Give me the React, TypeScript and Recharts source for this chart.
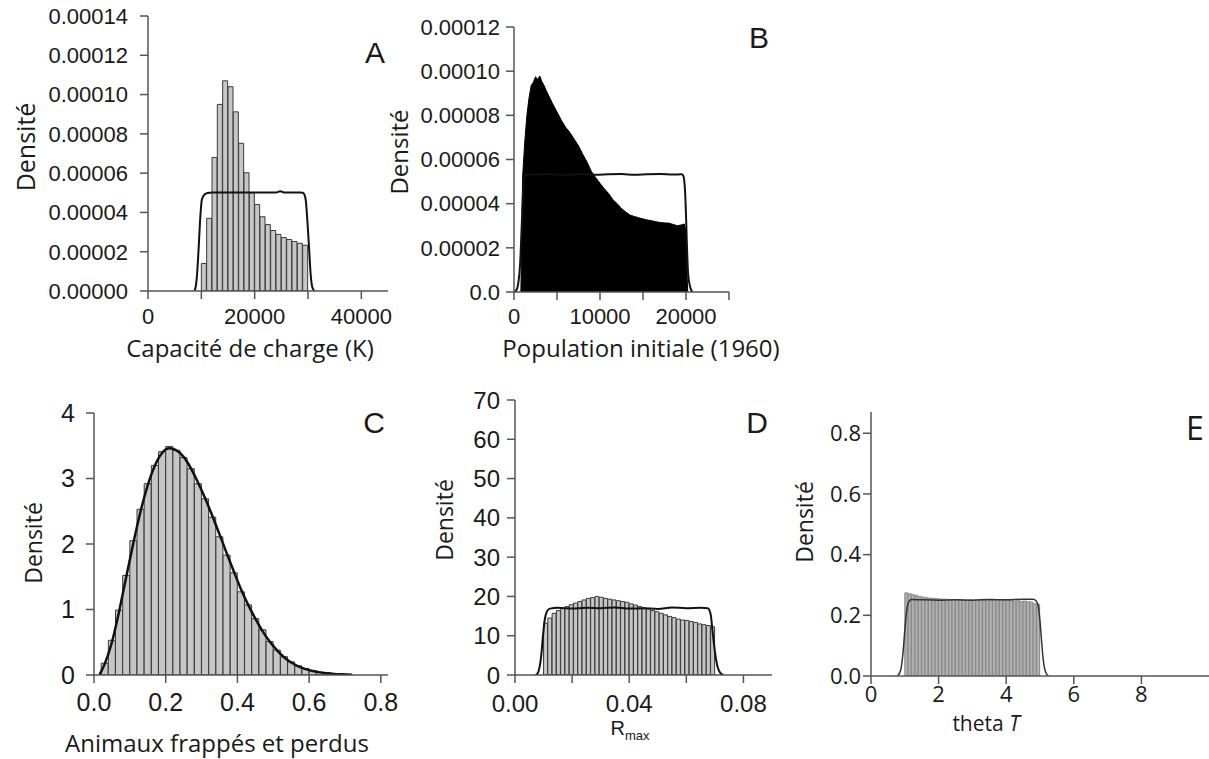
import React from 'react';
import { Area, Bar, ComposedChart, Line, XAxis, YAxis } from 'recharts';

// A: capacité de charge (K), bins of 1000
const aBinMids = [10500, 11500, 12500, 13500, 14500, 15500, 16500, 17500, 18500, 19500, 20500, 21500, 22500, 23500, 24500, 25500, 26500, 27500, 28500, 29500];
const aDensity = [0.000014, 0.000037, 0.000068, 0.000095, 0.000107, 0.000104, 0.0000912, 0.0000752, 0.0000602, 0.00005, 0.000044, 0.0000378, 0.0000338, 0.0000308, 0.0000288, 0.0000272, 0.0000262, 0.0000252, 0.0000243, 0.0000233];
const aPriorX = [8700, 9000, 9200, 9500, 9800, 10100, 10600, 11200, 12000, 14000, 16000, 18000, 20000, 22000, 24000, 24800, 25500, 27000, 28500, 29000, 29300, 29600, 29900, 30200, 30500, 30800, 31200];
const aPriorY = [0, 0.000003, 0.0000085, 0.000022, 0.0000373, 0.0000466, 0.0000491, 0.0000499, 0.0000502, 0.0000501, 0.0000502, 0.0000501, 0.0000502, 0.0000501, 0.0000502, 0.0000508, 0.0000502, 0.0000501, 0.0000502, 0.00005, 0.0000493, 0.0000458, 0.000035, 0.000022, 0.0000085, 0.000002, 0];
const aXTicks = [0, 10000, 20000, 30000, 40000];
const aXLabels = ['0', '', '20000', '', '40000'];
const aYTicks = [0, 0.00002, 0.00004, 0.00006, 0.00008, 0.0001, 0.00012, 0.00014];
const aYLabels = ['0.00000', '0.00002', '0.00004', '0.00006', '0.00008', '0.00010', '0.00012', '0.00014'];

// B: population initiale (1960), fine histogram outline
const bX = [800, 900, 1000, 1250, 1500, 1750, 2000, 2250, 2500, 2750, 3000, 3250, 3500, 3750, 4000, 4500, 5000, 5500, 6000, 6500, 7000, 7500, 8000, 8500, 9000, 9500, 10000, 10500, 11000, 11500, 12000, 12500, 13000, 13500, 14000, 14500, 15000, 15500, 16000, 16500, 17000, 17500, 18000, 18500, 19000, 19500, 19800, 20000, 20100, 20200];
const bY = [0, 0.000025, 0.000052, 0.000068, 0.00008, 0.000088, 0.0000935, 0.000095, 0.0000975, 0.0000962, 0.0000978, 0.0000952, 0.0000935, 0.0000912, 0.0000892, 0.0000852, 0.0000815, 0.0000778, 0.0000746, 0.0000722, 0.0000692, 0.0000662, 0.0000623, 0.0000588, 0.0000546, 0.0000518, 0.0000492, 0.0000468, 0.0000446, 0.0000418, 0.00004, 0.0000378, 0.0000362, 0.0000348, 0.0000342, 0.0000336, 0.0000331, 0.0000326, 0.0000323, 0.0000318, 0.0000315, 0.0000313, 0.0000312, 0.0000306, 0.00003, 0.0000304, 0.0000308, 0.000028, 0.00001, 0];
const bPriorX = [0, 300, 500, 700, 900, 1100, 1300, 2000, 4000, 6000, 8000, 9500, 11000, 12500, 14000, 15500, 17000, 18500, 19500, 19700, 19900, 20000, 20100, 20250, 20500, 20750];
const bPriorY = [0, 0.000001, 0.000004, 0.000012, 0.00003, 0.000048, 0.000053, 0.0000532, 0.0000533, 0.0000531, 0.0000534, 0.0000531, 0.0000533, 0.0000534, 0.0000531, 0.0000533, 0.0000534, 0.0000532, 0.0000533, 0.0000525, 0.000045, 0.000035, 0.000022, 0.000008, 0.000002, 0];
const bXTicks = [0, 5000, 10000, 15000, 20000, 25000];
const bXLabels = ['0', '', '10000', '', '20000', ''];
const bYTicks = [0, 0.00002, 0.00004, 0.00006, 0.00008, 0.0001, 0.00012];
const bYLabels = ['0.0', '0.00002', '0.00004', '0.00006', '0.00008', '0.00010', '0.00012'];

// C: animaux frappés et perdus, bins of 0.02
const cBinMids = [0.03, 0.05, 0.07, 0.09, 0.11, 0.13, 0.15, 0.17, 0.19, 0.21, 0.23, 0.25, 0.27, 0.29, 0.31, 0.33, 0.35, 0.37, 0.39, 0.41, 0.43, 0.45, 0.47, 0.49, 0.51, 0.53, 0.55, 0.57, 0.59, 0.61, 0.63, 0.65, 0.67, 0.69, 0.71];
const cDensity = [0.18, 0.53, 0.99, 1.52, 2.05, 2.53, 2.92, 3.2, 3.41, 3.49, 3.43, 3.32, 3.15, 2.92, 2.69, 2.41, 2.11, 1.83, 1.56, 1.27, 1.07, 0.86, 0.69, 0.51, 0.38, 0.28, 0.2, 0.14, 0.1, 0.065, 0.045, 0.03, 0.02, 0.012, 0.008];
const cPriorX = [0.015, 0.03, 0.05, 0.07, 0.09, 0.11, 0.13, 0.15, 0.17, 0.19, 0.21, 0.23, 0.25, 0.27, 0.29, 0.31, 0.33, 0.35, 0.37, 0.39, 0.41, 0.43, 0.45, 0.47, 0.49, 0.51, 0.53, 0.55, 0.57, 0.59, 0.61, 0.63, 0.65, 0.67, 0.69, 0.72];
const cPriorY = [0, 0.17, 0.5, 0.97, 1.5, 2.02, 2.5, 2.9, 3.2, 3.39, 3.46, 3.43, 3.33, 3.16, 2.94, 2.7, 2.43, 2.15, 1.86, 1.58, 1.31, 1.07, 0.86, 0.67, 0.51, 0.38, 0.27, 0.19, 0.13, 0.09, 0.06, 0.04, 0.025, 0.015, 0.01, 0.005];
const cXTicks = [0, 0.2, 0.4, 0.6, 0.8];
const cXLabels = ['0.0', '0.2', '0.4', '0.6', '0.8'];
const cYTicks = [0, 1, 2, 3, 4];
const cYLabels = ['0', '1', '2', '3', '4'];

// D: Rmax, bins of 0.0015
const dBinMids = [0.01075, 0.01225, 0.01375, 0.01525, 0.01675, 0.01825, 0.01975, 0.02125, 0.02275, 0.02425, 0.02575, 0.02725, 0.02875, 0.03025, 0.03175, 0.03325, 0.03475, 0.03625, 0.03775, 0.03925, 0.04075, 0.04225, 0.04375, 0.04525, 0.04675, 0.04825, 0.04975, 0.05125, 0.05275, 0.05425, 0.05575, 0.05725, 0.05875, 0.06025, 0.06175, 0.06325, 0.06475, 0.06625, 0.06775, 0.06925];
const dDensity = [13.2, 14.5, 15.7, 16.4, 17.0, 17.4, 17.9, 18.3, 18.7, 19.1, 19.5, 19.7, 20.0, 19.8, 19.5, 19.3, 19.1, 18.9, 18.7, 18.5, 18.1, 17.8, 17.4, 17.1, 16.8, 16.4, 16.1, 15.7, 15.3, 14.9, 14.6, 14.2, 14.0, 13.9, 13.6, 13.4, 13.0, 12.8, 12.6, 12.3];
const dPriorX = [0.0072, 0.008, 0.0086, 0.0092, 0.0098, 0.0104, 0.0112, 0.0122, 0.015, 0.02, 0.025, 0.03, 0.035, 0.04, 0.045, 0.05, 0.055, 0.06, 0.065, 0.0675, 0.0685, 0.0692, 0.07, 0.0708, 0.0718, 0.073];
const dPriorY = [0, 0.5, 2.0, 5.0, 10.0, 14.0, 16.2, 16.9, 17.1, 16.9, 17.1, 17.0, 17.2, 16.9, 17.0, 16.8, 17.2, 17.0, 17.1, 17.0, 15.5, 11.0, 6.0, 2.5, 0.6, 0];
const dXTicks = [0, 0.02, 0.04, 0.06, 0.08];
const dXLabels = ['0.00', '', '0.04', '', '0.08'];
const dYTicks = [0, 10, 20, 30, 40, 50, 60, 70];
const dYLabels = ['0', '10', '20', '30', '40', '50', '60', '70'];

// E: theta T, bins of 0.1
const eBinMids = [1.05, 1.15, 1.25, 1.35, 1.45, 1.55, 1.65, 1.75, 1.85, 1.95, 2.05, 2.15, 2.25, 2.35, 2.45, 2.55, 2.65, 2.75, 2.85, 2.95, 3.05, 3.15, 3.25, 3.35, 3.45, 3.55, 3.65, 3.75, 3.85, 3.95, 4.05, 4.15, 4.25, 4.35, 4.45, 4.55, 4.65, 4.75, 4.85, 4.95];
const eDensity = [0.274, 0.271, 0.268, 0.266, 0.262, 0.26, 0.258, 0.257, 0.256, 0.255, 0.254, 0.253, 0.253, 0.252, 0.252, 0.251, 0.251, 0.25, 0.25, 0.251, 0.25, 0.249, 0.25, 0.249, 0.248, 0.249, 0.25, 0.251, 0.249, 0.248, 0.248, 0.249, 0.247, 0.248, 0.246, 0.247, 0.245, 0.244, 0.238, 0.236];
const ePriorX = [0.78, 0.88, 0.95, 1.0, 1.05, 1.12, 1.2, 1.5, 2.0, 2.5, 3.0, 3.5, 4.0, 4.5, 4.8, 4.88, 4.95, 5.0, 5.05, 5.1, 5.16, 5.25];
const ePriorY = [0, 0.02, 0.08, 0.15, 0.21, 0.245, 0.252, 0.251, 0.25, 0.251, 0.25, 0.252, 0.251, 0.253, 0.253, 0.248, 0.23, 0.18, 0.11, 0.05, 0.015, 0];
const eXTicks = [0, 2, 4, 6, 8];
const eXLabels = ['0', '2', '4', '6', '8'];
const eYTicks = [0, 0.2, 0.4, 0.6, 0.8];
const eYLabels = ['0.0', '0.2', '0.4', '0.6', '0.8'];

const rows = (xs: number[], ys: number[]) => xs.map((x, i) => ({ x, d: ys[i] }));
const curve = (xs: number[], ys: number[]) => xs.map((x, i) => ({ x, y: ys[i] }));

const axisStyle = { stroke: '#555', strokeWidth: 1.5 };
const ARIAL = '"Liberation Sans", Arial, sans-serif';
const OPEN = '"Open Sans", sans-serif';

interface PanelProps {
  left: number;
  top: number;
  width: number;
  height: number;
  margin: { top: number; right: number; bottom: number; left: number };
  yWidth: number;
  xDomain: [number, number];
  yDomain: [number, number];
  xTicks: number[];
  xLabels: string[];
  yTicks: number[];
  yLabels: string[];
  bins?: { x: number; d: number }[];
  area?: { x: number; d: number }[];
  prior: { x: number; y: number }[];
  barFill?: string;
  barStroke?: string;
  lineColor?: string;
  lineWidth?: number;
  font: number;
  family: string;
  xTickMargin: number;
  yTickMargin: number;
}

function Panel(p: PanelProps) {
  const tick = { fill: '#1a1a1a', fontSize: p.font, fontFamily: p.family };
  return (
    <div style={{ position: 'absolute', left: p.left, top: p.top }}>
      <ComposedChart width={p.width} height={p.height} data={p.bins ?? p.area} margin={p.margin} barCategoryGap={0} barGap={0}>
        <XAxis
          xAxisId="bins"
          dataKey="x"
          type="number"
          domain={p.xDomain}
          allowDataOverflow
          ticks={p.xTicks}
          interval={0}
          tickFormatter={(_v: number, i: number) => p.xLabels[i]}
          height={40}
          tickSize={8}
          tickMargin={p.xTickMargin}
          axisLine={axisStyle}
          tickLine={axisStyle}
          tick={tick}
        />
        <XAxis xAxisId="fine" dataKey="x" type="number" domain={p.xDomain} allowDataOverflow hide />
        <YAxis
          type="number"
          domain={p.yDomain}
          allowDataOverflow
          ticks={p.yTicks}
          interval={0}
          tickFormatter={(_v: number, i: number) => p.yLabels[i]}
          width={p.yWidth}
          tickSize={8}
          tickMargin={p.yTickMargin}
          axisLine={axisStyle}
          tickLine={axisStyle}
          tick={tick}
        />
        {p.bins && (
          <Bar xAxisId="bins" dataKey="d" fill={p.barFill ?? '#c6c6c6'} stroke={p.barStroke ?? '#3a3a3a'} strokeWidth={1} isAnimationActive={false} />
        )}
        {p.area && (
          <Area xAxisId="bins" dataKey="d" type="linear" fill="#000" fillOpacity={1} stroke="#000" strokeWidth={1} isAnimationActive={false} />
        )}
        <Line
          xAxisId="fine"
          data={p.prior}
          dataKey="y"
          type="monotone"
          stroke={p.lineColor ?? '#111'}
          strokeWidth={p.lineWidth ?? 2}
          dot={false}
          activeDot={false}
          isAnimationActive={false}
        />
      </ComposedChart>
    </div>
  );
}

function Caption({ x, y, size, font = OPEN, rotate = false, children }: { x: number; y: number; size: number; font?: string; rotate?: boolean; children: React.ReactNode }) {
  return (
    <div
      style={{
        position: 'absolute',
        left: x,
        top: y,
        transform: `translate(-50%, -50%)${rotate ? ' rotate(-90deg)' : ''}`,
        fontSize: size,
        fontFamily: font,
        lineHeight: 1,
        whiteSpace: 'nowrap',
        color: '#1a1a1a',
      }}
    >
      {children}
    </div>
  );
}

export default function App() {
  return (
    <div style={{ position: 'absolute', left: 0, top: 0, width: 1209, height: 759, background: '#fff', overflow: 'hidden' }}>
      <Panel
        left={0} top={0} width={400} height={351}
        margin={{ top: 16, right: 12, bottom: 20, left: 0 }} yWidth={148}
        xDomain={[0, 45000]} yDomain={[0, 0.00014]}
        xTicks={aXTicks} xLabels={aXLabels} yTicks={aYTicks} yLabels={aYLabels}
        bins={rows(aBinMids, aDensity)} prior={curve(aPriorX, aPriorY)}
        font={22} family={ARIAL} xTickMargin={9} yTickMargin={12}
      />
      <Panel
        left={420} top={0} width={319} height={352}
        margin={{ top: 27, right: 10, bottom: 20, left: 0 }} yWidth={94}
        xDomain={[0, 25000]} yDomain={[0, 0.00012]}
        xTicks={bXTicks} xLabels={bXLabels} yTicks={bYTicks} yLabels={bYLabels}
        area={rows(bX, bY)} prior={curve(bPriorX, bPriorY)}
        font={22} family={ARIAL} xTickMargin={8} yTickMargin={6}
      />
      <Panel
        left={0} top={380} width={400} height={355}
        margin={{ top: 33, right: 12, bottom: 20, left: 0 }} yWidth={94}
        xDomain={[0, 0.82]} yDomain={[0, 4]}
        xTicks={cXTicks} xLabels={cXLabels} yTicks={cYTicks} yLabels={cYLabels}
        bins={rows(cBinMids, cDensity)} prior={curve(cPriorX, cPriorY)} lineWidth={2.5}
        font={25} family={ARIAL} xTickMargin={10} yTickMargin={11}
      />
      <Panel
        left={430} top={380} width={352} height={355}
        margin={{ top: 20, right: 10, bottom: 20, left: 0 }} yWidth={85}
        xDomain={[0, 0.09]} yDomain={[0, 70]}
        xTicks={dXTicks} xLabels={dXLabels} yTicks={dYTicks} yLabels={dYLabels}
        bins={rows(dBinMids, dDensity)} prior={curve(dPriorX, dPriorY)}
        font={24} family={ARIAL} xTickMargin={12} yTickMargin={7}
      />
      <Panel
        left={800} top={380} width={409} height={356}
        margin={{ top: 32, right: 0, bottom: 20, left: 0 }} yWidth={71}
        xDomain={[0, 10]} yDomain={[0, 0.87]}
        xTicks={eXTicks} xLabels={eXLabels} yTicks={eYTicks} yLabels={eYLabels}
        bins={rows(eBinMids, eDensity)} prior={curve(ePriorX, ePriorY)}
        barFill="#b0b0b0" barStroke="#8a8a8a" lineColor="#333" lineWidth={1.5}
        font={22} family={OPEN} xTickMargin={2} yTickMargin={2}
      />

      <Caption x={25} y={147} size={25} rotate>Densité</Caption>
      <Caption x={399} y={152} size={24} rotate>Densité</Caption>
      <Caption x={33} y={543} size={23} rotate>Densité</Caption>
      <Caption x={444} y={520} size={23} rotate>Densité</Caption>
      <Caption x={804} y={522} size={23} rotate>Densité</Caption>

      <Caption x={250} y={348} size={24}>Capacité de charge (K)</Caption>
      <Caption x={641} y={348} size={24}>Population initiale (1960)</Caption>
      <Caption x={217} y={743} size={24}>Animaux frappés et perdus</Caption>
      <Caption x={630} y={730} size={20} font={ARIAL}>
        R<sub style={{ fontSize: 13, verticalAlign: 'sub' }}>max</sub>
      </Caption>
      <Caption x={986} y={723} size={21}>
        theta <i>T</i>
      </Caption>

      <Caption x={375} y={53} size={30} font={ARIAL}>A</Caption>
      <Caption x={759} y={38} size={30} font={ARIAL}>B</Caption>
      <Caption x={374} y={423} size={30} font={ARIAL}>C</Caption>
      <Caption x={757} y={423} size={30} font={ARIAL}>D</Caption>
      <Caption x={1195} y={428} size={32}>E</Caption>
    </div>
  );
}
